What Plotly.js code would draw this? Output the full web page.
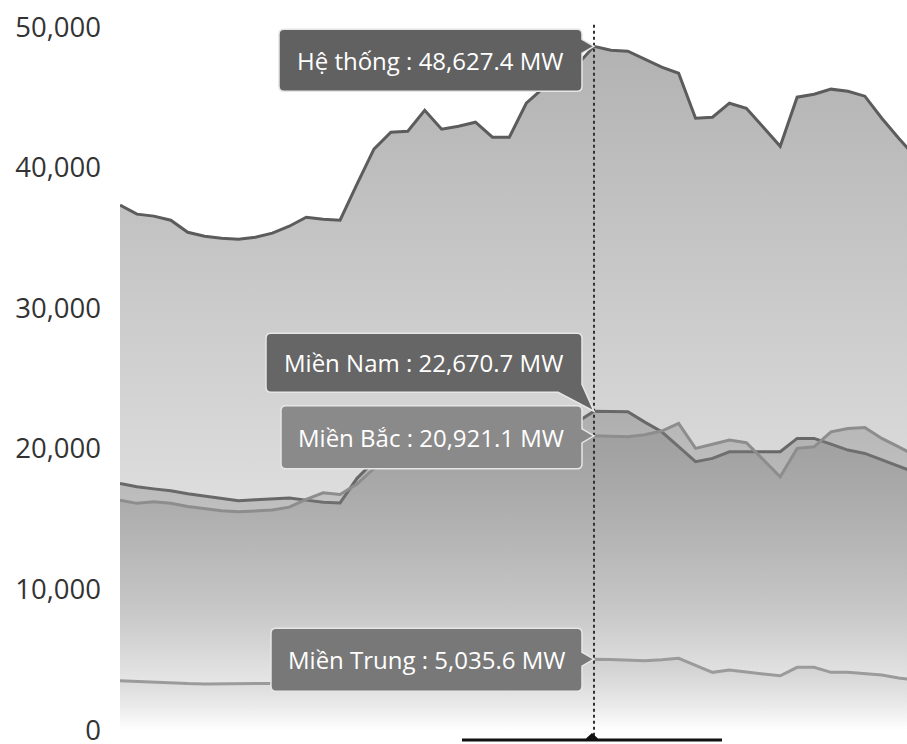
<!DOCTYPE html>
<html>
<head>
<meta charset="utf-8">
<script src="https://cdn.plot.ly/plotly-3.0.1.min.js"></script>
<style>
  html, body { margin: 0; padding: 0; background: #ffffff; overflow: hidden; }
  #chart { width: 907px; height: 744px; }
</style>
</head>
<body>
<div id="chart"></div>
<script>
// ---- data (half-hourly, MW) ----
const times = ["00:30","01:00","01:30","02:00","02:30","03:00","03:30","04:00","04:30","05:00",
  "05:30","06:00","06:30","07:00","07:30","08:00","08:30","09:00","09:30","10:00",
  "10:30","11:00","11:30","12:00","12:30","13:00","13:30","14:00","14:30","15:00",
  "15:30","16:00","16:30","17:00","17:30","18:00","18:30","19:00","19:30","20:00",
  "20:30","21:00","21:30","22:00","22:30","23:00","23:30","24:00"];

const heThong = [37330, 36690, 36550, 36260, 35400, 35120, 34980, 34910, 35050, 35340,
  35830, 36470, 36330, 36260, 38820, 41310, 42520, 42590, 44080, 42730,
  42940, 43230, 42160, 42160, 44580, 45650, 46500, 47300, 48627.4, 48350,
  48280, 47710, 47140, 46710, 43510, 43580, 44580, 44220, 42870, 41520,
  45010, 45220, 45580, 45430, 45080, 43510, 42090, 40740];

const mienNam = [17540, 17300, 17150, 17010, 16800, 16650, 16500, 16300, 16380, 16450,
  16500, 16350, 16200, 16150, 17900, 19100, 19750, 19700, 20000, 19750,
  19800, 19900, 19300, 19300, 20500, 21000, 21500, 21900, 22670.7, 22650,
  22630, 21900, 21210, 20150, 19080, 19320, 19790, 19790, 19790, 19790,
  20740, 20740, 20330, 19910, 19670, 19220, 18720, 18300];

const mienBac = [16350, 16120, 16230, 16120, 15900, 15760, 15600, 15520, 15580, 15640,
  15850, 16400, 16870, 16750, 17500, 18600, 18970, 18990, 19980, 18980,
  19040, 19130, 18900, 18750, 19580, 19950, 20150, 20450, 20921.1, 20880,
  20860, 21000, 21260, 21800, 20030, 20320, 20620, 20430, 19220, 18010,
  20030, 20140, 21210, 21450, 21520, 20740, 20140, 19500];

const mienTrung = [3510, 3450, 3400, 3350, 3300, 3280, 3270, 3280, 3300, 3310,
  3320, 3330, 3340, 3350, 3420, 3600, 3800, 3900, 4100, 4000,
  4100, 4200, 4100, 4200, 4500, 4700, 4850, 4950, 5035.6, 5020,
  4980, 4930, 5000, 5100, 4600, 4100, 4270, 4100, 3980, 3860,
  4460, 4460, 4100, 4100, 4000, 3910, 3700, 3550];

const seriesNames = ["Hệ thống", "Miền Nam", "Miền Bắc", "Miền Trung"];
const yTicks = [0, 10000, 20000, 30000, 40000, 50000];
const yTickText = ["0", "10,000", "20,000", "30,000", "40,000", "50,000"];
const hoverIndex = 28;
// ------------------------------

const FONT = "Open Sans, Noto Sans, sans-serif";

function areaTrace(name, y, lineColor, fillRGB, a1, stop) {
  return {
    type: "scatter", mode: "lines", name: name,
    x: times, y: y,
    line: { color: lineColor, width: 3 },
    fill: "tozeroy",
    fillgradient: {
      type: "vertical", start: 0, stop: stop,
      colorscale: [[0, "rgba(" + fillRGB + ",0)"], [0.35, "rgba(" + fillRGB + "," + (a1 * 0.45) + ")"], [1, "rgba(" + fillRGB + "," + a1 + ")"]]
    },
    hoverinfo: "skip"
  };
}

const traces = [
  areaTrace(seriesNames[0], heThong, "#5c5c5c", "150,150,150", 0.75, 50000),
  areaTrace(seriesNames[1], mienNam, "#686868", "115,115,115", 0.40, 23000),
  areaTrace(seriesNames[2], mienBac, "#8d8d8d", "125,125,125", 0.36, 23000),
  areaTrace(seriesNames[3], mienTrung, "#9b9b9b", "160,160,160", 0.22, 5200)
];

// tooltip callout path, given in screen offsets (down positive) from the data point
function callout(x0, x1, yT, yB, pointer) {
  const r = 5;
  const P = (x, y) => x + "," + (-y);
  let d = "M" + P(x0 + r, yT) + " L" + P(x1 - r, yT) + " Q" + P(x1, yT) + " " + P(x1, yT + r);
  if (pointer === "right") {
    d += " L" + P(x1, -7) + " L" + P(0, 0) + " L" + P(x1, 7);
    d += " L" + P(x1, yB - r) + " Q" + P(x1, yB) + " " + P(x1 - r, yB);
  } else {
    d += " L" + P(x1, yB - 8) + " L" + P(0, 0) + " L" + P(x1 - 24, yB);
  }
  d += " L" + P(x0 + r, yB) + " Q" + P(x0, yB) + " " + P(x0, yB - r);
  d += " L" + P(x0, yT + r) + " Q" + P(x0, yT) + " " + P(x0 + r, yT) + " Z";
  return d;
}

const tips = [
  { y: heThong[hoverIndex], name: seriesNames[0], box: [-315, -12, -17, 45], ptr: "right", color: "#616161" },
  { y: mienNam[hoverIndex], name: seriesNames[1], box: [-328, -12, -78, -19], ptr: "bottom", color: "#666666" },
  { y: mienBac[hoverIndex], name: seriesNames[2], box: [-313, -12, -30, 33], ptr: "right", color: "#8a8a8a" },
  { y: mienTrung[hoverIndex], name: seriesNames[3], box: [-323, -12, -31, 32], ptr: "right", color: "#787878" }
];

const fmt = v => v.toLocaleString("en-US", { minimumFractionDigits: 1, maximumFractionDigits: 1 });

const shapes = [
  { type: "line", xref: "x", yref: "paper", x0: times[hoverIndex], x1: times[hoverIndex], y0: 0.006, y1: 1.003,
    line: { color: "#333333", width: 2, dash: "dot" }, layer: "above" },
  { type: "path", xref: "x", yref: "paper", xsizemode: "pixel", ysizemode: "pixel",
    xanchor: times[hoverIndex], yanchor: 0,
    path: "M-132,1.5 L-8,1.5 L-2,7 L4,1.5 L128,1.5 L128,-1.5 L-132,-1.5 Z",
    fillcolor: "#111111", line: { width: 0 }, layer: "above" }
];
const annotations = [];
tips.forEach(t => {
  const [x0, x1, yT, yB] = t.box;
  shapes.push({
    type: "path", xref: "x", yref: "y", xsizemode: "pixel", ysizemode: "pixel",
    xanchor: times[hoverIndex], yanchor: t.y,
    path: callout(x0, x1, yT, yB, t.ptr),
    fillcolor: t.color, line: { color: "#e6e6e6", width: 1.5 }, layer: "above"
  });
  annotations.push({
    x: times[hoverIndex], y: t.y, xref: "x", yref: "y",
    xshift: (x0 + x1) / 2, yshift: -(yT + yB) / 2,
    text: t.name + " : " + fmt(t.y) + " MW",
    showarrow: false, xanchor: "center", yanchor: "middle",
    font: { family: FONT, size: 24, color: "#ffffff" }
  });
});

const layout = {
  width: 907, height: 744,
  margin: { l: 120, r: 0, t: 27, b: 4, pad: 0 },
  paper_bgcolor: "#ffffff", plot_bgcolor: "#ffffff",
  showlegend: false, hovermode: false,
  xaxis: { type: "category", range: [0, 46.49], showticklabels: false, showgrid: false,
           zeroline: false, showline: false, ticks: "", fixedrange: true },
  yaxis: { range: [-711, 50000], tickmode: "array", tickvals: yTicks, ticktext: yTickText,
           ticklabeloverflow: "allow",
           showgrid: false, zeroline: false, showline: false, ticks: "", ticklabelstandoff: 18,
           tickfont: { family: FONT, size: 27.5, color: "#333333" }, fixedrange: true },
  shapes: shapes,
  annotations: annotations
};

Plotly.newPlot("chart", traces, layout, { displayModeBar: false, staticPlot: true });
</script>
</body>
</html>
